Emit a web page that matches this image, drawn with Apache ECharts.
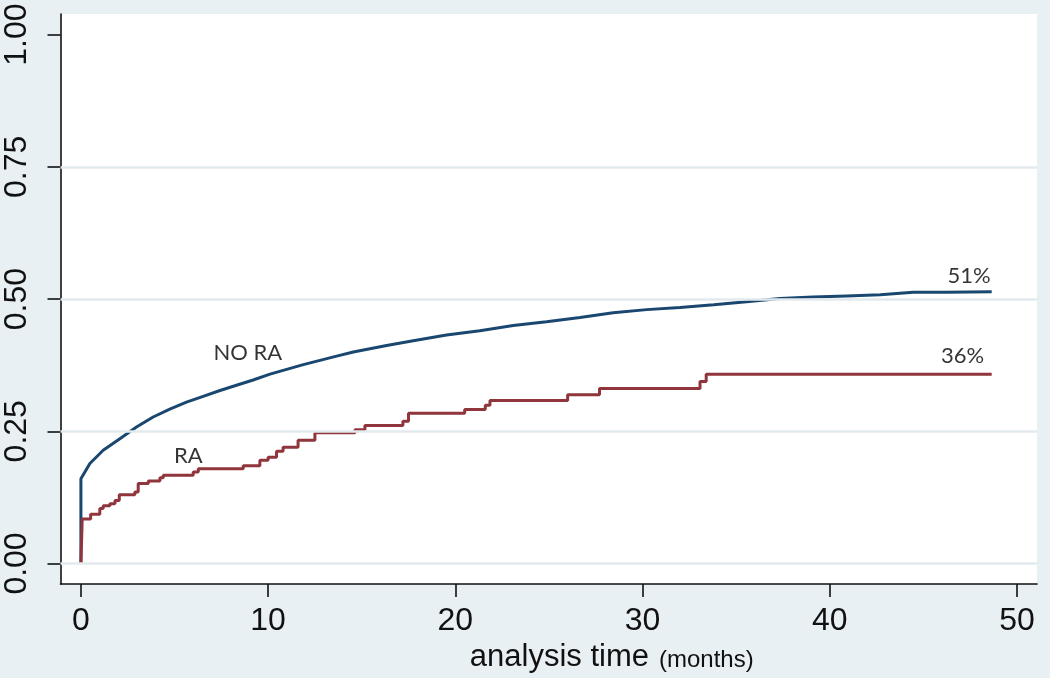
<!DOCTYPE html>
<html>
<head>
<meta charset="utf-8">
<script src="https://cdn.jsdelivr.net/npm/echarts@6.0.0/dist/echarts.min.js"></script>
<style>
html,body{margin:0;padding:0;background:#e9f0f3;}
#chart{width:1050px;height:678px;}
</style>
</head>
<body>
<div id="chart"></div>
<script>
// Tick values
const xTicks = [0, 10, 20, 30, 40, 50];
const yTicks = [0, 0.25, 0.5, 0.75, 1];
const gridYs = [0, 0.25, 0.5, 0.75];

// NO RA cumulative incidence (months, proportion)
const noRA = [
  [0,0],[0,0.16],[0.07,0.162],[0.48,0.189],[1.19,0.214],[2.08,0.236],[2.97,0.258],
  [3.86,0.277],[4.75,0.292],[5.64,0.305],[6.53,0.316],[7.43,0.327],[8.31,0.337],
  [9.2,0.347],[10.1,0.358],[10.99,0.367],[11.88,0.376],[12.77,0.384],[13.66,0.392],
  [14.55,0.400],[15.44,0.406],[16.33,0.412],[17.75,0.421],[19.53,0.432],[21.31,0.440],
  [23.09,0.450],[24.87,0.457],[26.66,0.465],[28.43,0.474],[30.22,0.480],[32.0,0.484],
  [33.8,0.489],[35.56,0.495],[37.34,0.501],[39.1,0.504],[40.9,0.506],[42.7,0.508],
  [44.46,0.513],[46.2,0.513],[48.65,0.514]
];

// RA cumulative incidence, step function (value holds from x onward)
const ra = [
  [0,0],[0.07,0.084],[0.52,0.093],[1.01,0.104],[1.19,0.109],[1.55,0.113],[1.82,0.119],
  [2.05,0.130],[2.88,0.135],[3.06,0.151],[3.6,0.156],[4.22,0.162],[4.4,0.167],[6.0,0.173],
  [6.27,0.179],[8.67,0.185],[9.56,0.195],[10.0,0.201],[10.45,0.212],[10.8,0.220],
  [11.6,0.233],[12.5,0.247],[14.64,0.253],[15.17,0.261],[17.2,0.269],[17.5,0.284],
  [20.5,0.291],[21.6,0.299],[21.85,0.308],[26.0,0.319],[27.7,0.331],[33.07,0.344],
  [33.4,0.358],[48.65,0.358]
];

// Annotation texts and their data positions
const annoText = ['NO RA', 'RA', '51%', '36%'];
const annoX = [8.92, 5.74, 47.44, 47.09];
const annoY = [0.398, 0.203, 0.544, 0.393];

const chart = echarts.init(document.getElementById('chart'), null, {renderer: 'canvas'});

const labelFont = 'Liberation Sans, Arial, sans-serif';

chart.setOption({
  backgroundColor: '#e9f0f3',
  animation: false,
  grid: {left: 60.5, right: 13, top: 14, bottom: 92.5, show: true, backgroundColor: '#ffffff', borderWidth: 0},
  xAxis: {
    type: 'value', min: -1.09, max: 51.07,
    axisLine: {show: true, onZero: false, lineStyle: {color: '#111', width: 1.6}},
    axisTick: {show: true, length: 13, customValues: xTicks, lineStyle: {color: '#111', width: 1.6}},
    axisLabel: {customValues: xTicks, color: '#111', fontSize: 32, fontFamily: labelFont, margin: 21},
    splitLine: {show: false},
    name: '{a|analysis time}   {b|(months)}',
    nameLocation: 'middle', nameGap: 54,
    nameTextStyle: {
      padding: [0, 0, 0, 126],
      rich: {
        a: {fontSize: 31, fontFamily: labelFont, color: '#111'},
        b: {fontSize: 24, fontFamily: labelFont, color: '#111', padding: [5, 0, 0, 0]}
      }
    }
  },
  yAxis: {
    type: 'value', min: -0.039, max: 1.039,
    axisLine: {show: true, onZero: false, lineStyle: {color: '#111', width: 1.6}},
    axisTick: {show: true, length: 13, customValues: yTicks, lineStyle: {color: '#111', width: 1.6}},
    axisLabel: {customValues: yTicks, rotate: 90, color: '#111', fontSize: 32, fontFamily: labelFont, margin: 27,
      formatter: v => v.toFixed(2)},
    splitLine: {show: false}
  },
  series: [
    {
      name: 'grid', type: 'line', data: [], z: 1, silent: true,
      markLine: {
        silent: true, symbol: 'none', label: {show: false},
        lineStyle: {color: '#e3eaee', width: 2.5, type: 'solid'},
        data: gridYs.map(v => ({yAxis: v}))
      }
    },
    {
      name: 'NO RA', type: 'line', data: noRA, showSymbol: false, symbol: 'none', z: 3,
      lineStyle: {color: '#1a476f', width: 3}
    },
    {
      name: 'RA', type: 'line', data: ra, step: 'end', showSymbol: false, symbol: 'none', z: 4,
      lineStyle: {color: '#90353b', width: 3}
    },
    {
      name: 'labels', type: 'scatter', z: 5, symbolSize: 1, silent: true,
      itemStyle: {color: 'rgba(0,0,0,0)'},
      data: annoText.map((t, i) => ({name: t, value: [annoX[i], annoY[i]]})),
      label: {show: true, position: 'inside', formatter: p => p.name,
        fontFamily: 'Lato, "Open Sans", sans-serif', fontSize: 22, color: '#000'}
    }
  ]
});
</script>
</body>
</html>
